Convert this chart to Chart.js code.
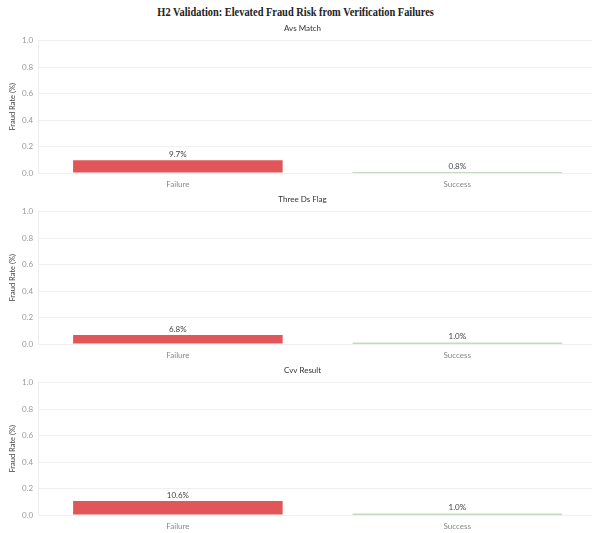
<!DOCTYPE html>
<html>
<head>
<meta charset="utf-8">
<script src="https://cdn.jsdelivr.net/npm/chart.js@4.4.1/dist/chart.umd.min.js"></script>
<style>
  html, body { margin: 0; padding: 0; background: #fff; overflow: hidden; }
  #title {
    font-family: "Liberation Serif", "DejaVu Serif", serif;
    font-weight: bold;
    font-size: 12.5px;
    color: #222;
    text-align: center;
    height: 22px;
    line-height: 24px;
    width: 592px;
  }
  #title span { display: inline-block; transform: scaleX(0.83); }
  .panel { position: relative; width: 597px; height: 171px; }
</style>
</head>
<body>
<div id="title"><span>H2 Validation: Elevated Fraud Risk from Verification Failures</span></div>
<div class="panel"><canvas id="c0"></canvas></div>
<div class="panel"><canvas id="c1"></canvas></div>
<div class="panel"><canvas id="c2"></canvas></div>
<script>
// Fraud rate by verification outcome, one panel per check
const panelTitles = ['Avs Match', 'Three Ds Flag', 'Cvv Result'];
const categories = ['Failure', 'Success'];
const avsMatchRates = [0.097, 0.008];
const threeDsRates = [0.068, 0.010];
const cvvResultRates = [0.106, 0.010];
const yTicks = [0, 0.2, 0.4, 0.6, 0.8, 1.0];

const panelRates = [avsMatchRates, threeDsRates, cvvResultRates];
const barColors = ['#e15759', '#86b97b'];

// draws the "9.7%" labels above each bar
const valueLabels = {
  id: 'valueLabels',
  afterDatasetsDraw(chart) {
    const ctx = chart.ctx;
    const meta = chart.getDatasetMeta(0);
    const values = chart.data.datasets[0].data;
    ctx.save();
    ctx.font = '8px Lato';
    ctx.fillStyle = '#444';
    ctx.textAlign = 'center';
    ctx.textBaseline = 'bottom';
    meta.data.forEach((bar, i) => {
      ctx.fillText((values[i] * 100).toFixed(1) + '%', bar.x, bar.y - 2);
    });
    ctx.restore();
  }
};

panelRates.forEach((rates, p) => {
  new Chart(document.getElementById('c' + p), {
    type: 'bar',
    data: {
      labels: categories,
      datasets: [{
        data: rates,
        backgroundColor: barColors,
        categoryPercentage: 1,
        barPercentage: 0.75
      }]
    },
    options: {
      responsive: true,
      maintainAspectRatio: false,
      animation: false,
      layout: { padding: { top: 2, right: 0, bottom: 0, left: 8 } },
      plugins: {
        legend: { display: false },
        tooltip: { enabled: false },
        title: {
          display: true,
          text: panelTitles[p],
          color: '#333',
          font: { family: 'Lato', size: 8, weight: 'normal' },
          padding: { top: 0, bottom: 7 }
        }
      },
      scales: {
        x: {
          grid: { display: false, drawTicks: false },
          border: { display: false },
          ticks: { color: '#888', font: { family: 'Lato', size: 8 }, padding: 7 },
          afterFit: scale => { scale.height = 20; }
        },
        y: {
          min: 0,
          max: 1,
          afterBuildTicks: axis => { axis.ticks = yTicks.map(v => ({ value: v })); },
          grid: { color: '#f0f0f0', drawTicks: false },
          border: { color: '#eeeeee' },
          ticks: {
            color: '#999',
            font: { family: 'Lato', size: 8 },
            padding: 5,
            callback: v => v.toFixed(1)
          },
          title: {
            display: true,
            text: 'Fraud Rate (%)',
            color: '#444',
            font: { family: 'Lato', size: 7.5 },
            padding: { top: 0, bottom: 0 }
          }
        }
      }
    },
    plugins: [valueLabels]
  });
});
</script>
</body>
</html>
